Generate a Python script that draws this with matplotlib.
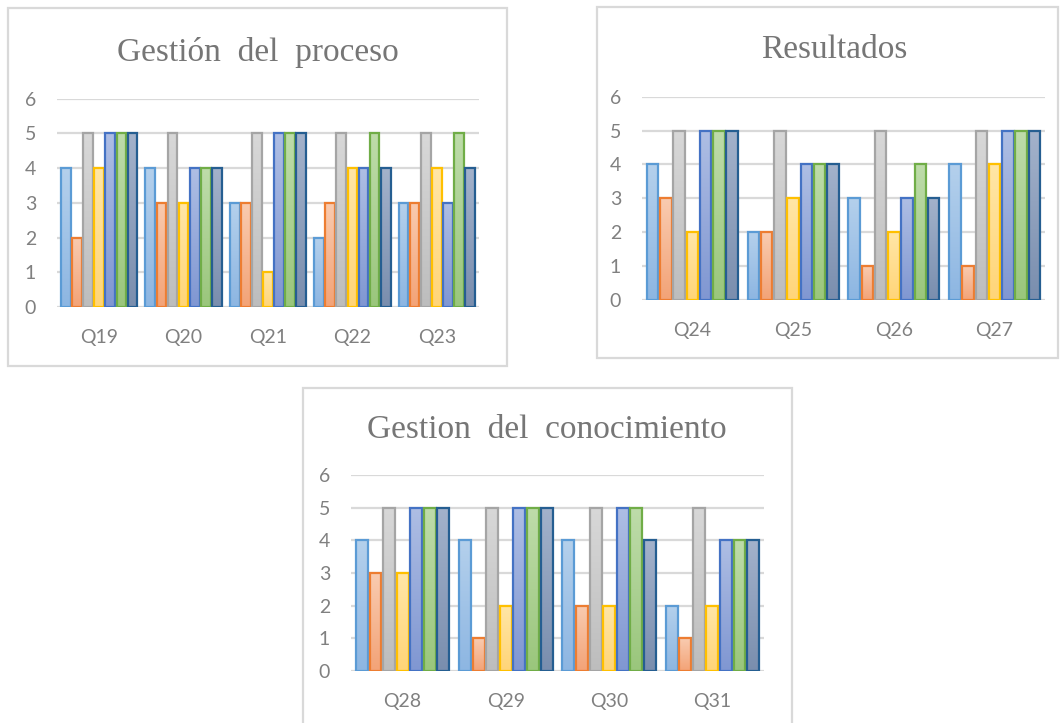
import numpy as np
import matplotlib
matplotlib.use("Agg")
import matplotlib.pyplot as plt
from matplotlib.colors import LinearSegmentedColormap
from matplotlib.patches import Rectangle

# ---- data -------------------------------------------------------------
proceso_labels = ["Q19", "Q20", "Q21", "Q22", "Q23"]
proceso_values = [
    [4, 4, 3, 2, 3],
    [2, 3, 3, 3, 3],
    [5, 5, 5, 5, 5],
    [4, 3, 1, 4, 4],
    [5, 4, 5, 4, 3],
    [5, 4, 5, 5, 5],
    [5, 4, 5, 4, 4],
]

resultados_labels = ["Q24", "Q25", "Q26", "Q27"]
resultados_values = [
    [4, 2, 3, 4],
    [3, 2, 1, 1],
    [5, 5, 5, 5],
    [2, 3, 2, 4],
    [5, 4, 3, 5],
    [5, 4, 4, 5],
    [5, 4, 3, 5],
]

conocimiento_labels = ["Q28", "Q29", "Q30", "Q31"]
conocimiento_values = [
    [4, 4, 4, 2],
    [3, 1, 2, 1],
    [5, 5, 5, 5],
    [3, 2, 2, 2],
    [5, 5, 5, 4],
    [5, 5, 5, 4],
    [5, 5, 4, 4],
]

y_ticks = [0, 1, 2, 3, 4, 5, 6]

# series styling: (edge, gradient top, gradient bottom)
series_styles = [
    ("#5B9BD5", "#B4D0EC", "#8DB6E2"),
    ("#ED7D31", "#F9CBB0", "#F3A377"),
    ("#A5A5A5", "#D8D8D8", "#BDBDBD"),
    ("#FFC000", "#FFE6A6", "#FFD578"),
    ("#4472C4", "#AEBEE4", "#8097D2"),
    ("#70AD47", "#BEDCAA", "#9AC67C"),
    ("#255E91", "#A3B2CB", "#7A8EAE"),
]

TEXT_GRAY = "#808080"
GRID_GRAY = "#D9D9D9"
W, H = 1060, 723

fig = plt.figure(figsize=(W / 100, H / 100), dpi=100)
fig.patch.set_facecolor("white")


def px_axes(x0, y0, x1, y1):
    """Axes from pixel box (top-left origin)."""
    return fig.add_axes([x0 / W, 1 - y1 / H, (x1 - x0) / W, (y1 - y0) / H])


def panel_frame(x0, y0, x1, y1):
    fig.patches.append(Rectangle((x0 / W, 1 - y1 / H), (x1 - x0) / W, (y1 - y0) / H,
                                 transform=fig.transFigure, fill=False,
                                 edgecolor=GRID_GRAY, linewidth=1.6, zorder=0))


def draw_panel(ax, labels, values, title, title_xy):
    n_cat = len(labels)
    n_ser = len(values)
    x = np.arange(n_cat)
    group = 0.92
    step = group / n_ser
    for i, (vals, (edge, top, bottom)) in enumerate(zip(values, series_styles)):
        offs = -group / 2 + step * (i + 0.5)
        bars = ax.bar(x + offs, vals, width=step * 0.88, facecolor="none",
                      edgecolor=edge, linewidth=1.6, zorder=3)
        cmap = LinearSegmentedColormap.from_list(f"g{i}", [bottom, top])
        grad = np.linspace(0, 1, 64).reshape(-1, 1)
        for b in bars:
            bx, by = b.get_x(), b.get_y()
            bw, bh = b.get_width(), b.get_height()
            im = ax.imshow(grad, cmap=cmap, origin="lower", aspect="auto",
                           extent=(bx, bx + bw, by, by + bh), zorder=2,
                           interpolation="bilinear")
            im.set_clip_path(b)
    ax.set_xlim(-0.5, n_cat - 0.5)
    ax.set_ylim(0, 6)
    ax.set_yticks(y_ticks)
    ax.set_xticks(x)
    ax.set_xticklabels(labels)
    ax.grid(axis="y", color=GRID_GRAY, linewidth=1.6, zorder=0)
    ax.set_axisbelow(True)
    for s in ax.spines.values():
        s.set_visible(False)
    ax.tick_params(length=0, colors=TEXT_GRAY, labelsize=14)
    ax.tick_params(axis="y", pad=15)
    ax.tick_params(axis="x", pad=16)
    for t in ax.get_xticklabels() + ax.get_yticklabels():
        t.set_fontfamily("Lato")
    fig.text(title_xy[0] / W, 1 - title_xy[1] / H, title, ha="center",
             va="baseline", fontsize=24, color="#767676",
             family="Liberation Serif")


# panel frames
panel_frame(8, 8, 507, 366)
panel_frame(597, 7, 1058, 358)
panel_frame(303, 388, 792, 740)

ax1 = px_axes(57, 98.7, 479, 307)
draw_panel(ax1, proceso_labels, proceso_values, "Gestión  del  proceso", (258, 61))

ax2 = px_axes(642, 96.7, 1045, 300)
draw_panel(ax2, resultados_labels, resultados_values, "Resultados", (834, 58))

ax3 = px_axes(351, 475, 764, 671)
draw_panel(ax3, conocimiento_labels, conocimiento_values,
           "Gestion  del  conocimiento", (547, 438))

fig.savefig("out.png", dpi=100, facecolor="white")
